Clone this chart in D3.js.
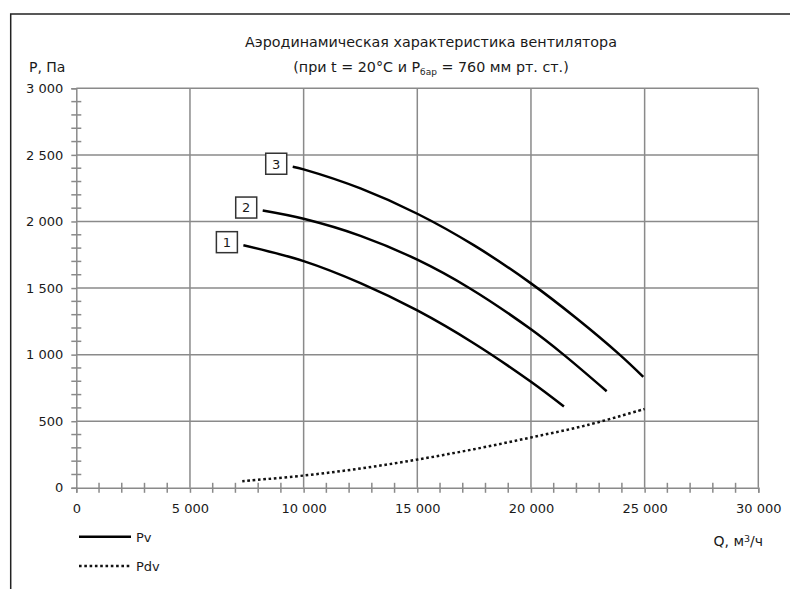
<!DOCTYPE html>
<html>
<head>
<meta charset="utf-8">
<script src="https://cdn.jsdelivr.net/npm/d3@7"></script>
<style>
  html, body { margin: 0; padding: 0; background: #fff; }
  svg { display: block; font-family: "DejaVu Sans", sans-serif; }
</style>
</head>
<body>
<svg id="chart" width="790" height="589"></svg>
<script>
// Q, m3/h and P, Pa
const curve1Q = [7350, 10000, 12500, 15000, 17500, 20000, 21450];
const curve1P = [1822, 1702, 1537, 1332, 1084, 796, 610];
const curve2Q = [8200, 10000, 12500, 15000, 17320, 20000, 21420, 23330];
const curve2P = [2082, 2020, 1892, 1713, 1497, 1190, 1002, 725];
const curve3Q = [9520, 10000, 12500, 15000, 17500, 20000, 22000, 23900, 24940];
const curve3P = [2411, 2391, 2248, 2058, 1820, 1535, 1273, 1000, 833];
const pdvQ = [7300, 10000, 12500, 15000, 17500, 20000, 22500, 25000];
const pdvP = [50, 92, 145, 212, 290, 378, 472, 592];
const curveLabels = ["1", "2", "3"];
const xTicks = [0, 5000, 10000, 15000, 20000, 25000, 30000];
const yTicks = [0, 500, 1000, 1500, 2000, 2500, 3000];

const svg = d3.select('#chart');
const grid = '#8a8a8a';
const ink = '#1a1a1a';

const x = d3.scaleLinear().domain([0, 30000]).range([76.3, 758.3]);
const y = d3.scaleLinear().domain([0, 3000]).range([487.8, 88.3]);
const fmt = d3.formatLocale({decimal: ',', thousands: ' ', grouping: [3], currency: ['', '']}).format(',d');

// outer frame (only top and left edges show)
svg.append('path').attr('d', 'M10.7,589V14H790')
  .attr('fill', 'none').attr('stroke', '#222').attr('stroke-width', 1.5);

// gridlines
const g = svg.append('g');
g.selectAll('line.vg').data(xTicks.slice(1)).enter().append('line')
  .attr('x1', d => x(d)).attr('x2', d => x(d)).attr('y1', y(0)).attr('y2', y(3000))
  .attr('stroke', grid).attr('stroke-width', 1.5);
g.selectAll('line.hg').data(yTicks.slice(1)).enter().append('line')
  .attr('x1', x(0)).attr('x2', x(30000)).attr('y1', d => y(d)).attr('y2', d => y(d))
  .attr('stroke', grid).attr('stroke-width', 1.5);

// axes with crossing minor ticks
const yAxis = g.append('g').attr('transform', 'translate(' + x(0) + ',0)')
  .call(d3.axisLeft(y).tickValues(yTicks).tickSize(5).tickFormat(fmt).tickPadding(8));
const xAxis = g.append('g').attr('transform', 'translate(0,' + y(0) + ')')
  .call(d3.axisBottom(x).tickValues(xTicks).tickSize(5).tickFormat(fmt).tickPadding(8));
[yAxis, xAxis].forEach(a => {
  a.select('.domain').attr('stroke', grid).attr('stroke-width', 1.5);
  a.selectAll('.tick line').attr('stroke', grid).attr('stroke-width', 1.5);
  a.selectAll('.tick text').attr('fill', ink).style('font-size', '13px').style('font-family', '"DejaVu Sans", sans-serif');
});
xAxis.selectAll('.tick text').attr('dy', '0.95em');

g.selectAll('line.ym').data(d3.range(100, 3000, 100).filter(v => v % 500)).enter().append('line')
  .attr('x1', x(0) - 5).attr('x2', x(0) + 5).attr('y1', d => y(d)).attr('y2', d => y(d))
  .attr('stroke', grid).attr('stroke-width', 1.5);
g.selectAll('line.xm').data(d3.range(1000, 30000, 1000).filter(v => v % 5000)).enter().append('line')
  .attr('x1', d => x(d)).attr('x2', d => x(d)).attr('y1', y(0) - 5).attr('y2', y(0) + 5)
  .attr('stroke', grid).attr('stroke-width', 1.5);

// curves
const line = d3.line().x(d => x(d[0])).y(d => y(d[1])).curve(d3.curveCatmullRom);
const pv = [d3.zip(curve1Q, curve1P), d3.zip(curve2Q, curve2P), d3.zip(curve3Q, curve3P)];
svg.selectAll('path.pv').data(pv).enter().append('path')
  .attr('d', line).attr('fill', 'none').attr('stroke', '#000').attr('stroke-width', 2.5);
svg.append('path').datum(d3.zip(pdvQ, pdvP))
  .attr('d', line).attr('fill', 'none').attr('stroke', '#111')
  .attr('stroke-width', 2.5).attr('stroke-dasharray', '2.6 2.7');

// numbered boxes at the start of each Pv curve
const lab = svg.selectAll('g.lab').data(pv).enter().append('g')
  .attr('transform', d => 'translate(' + (x(d[0][0]) - 6) + ',' + (y(d[0][1]) - 3) + ')');
lab.append('rect').attr('x', -21).attr('y', -10.5).attr('width', 21).attr('height', 21)
  .attr('fill', '#fff').attr('stroke', '#333').attr('stroke-width', 1.5);
lab.append('text').attr('x', -10.5).attr('y', 4.8).attr('text-anchor', 'middle')
  .attr('fill', ink).style('font-size', '13px').text((d, i) => curveLabels[i]);

// titles
const title = svg.append('g').attr('fill', ink).style('font-size', '14.3px');
title.append('text').attr('x', 431).attr('y', 47).attr('text-anchor', 'middle')
  .text('Аэродинамическая характеристика вентилятора');
const t2 = title.append('text').attr('x', 431).attr('y', 72).attr('text-anchor', 'middle');
t2.append('tspan').text('(при t = 20°C и P');
t2.append('tspan').attr('dy', 3).style('font-size', '9px').text('бар');
t2.append('tspan').attr('dy', -3).text(' = 760 мм рт. ст.)');
title.append('text').attr('x', 29).attr('y', 72).style('font-size', '14px').text('P, Па');
const q = title.append('text').attr('x', 763).attr('y', 546).attr('text-anchor', 'end').style('font-size', '14px');
q.append('tspan').text('Q, м');
q.append('tspan').attr('dy', -4.5).style('font-size', '9.5px').text('3');
q.append('tspan').attr('dy', 4.5).text('/ч');

// legend
const leg = svg.append('g');
leg.append('line').attr('x1', 79).attr('x2', 131).attr('y1', 536.7).attr('y2', 536.7)
  .attr('stroke', '#000').attr('stroke-width', 2.5);
leg.append('line').attr('x1', 79).attr('x2', 131).attr('y1', 566).attr('y2', 566)
  .attr('stroke', '#111').attr('stroke-width', 2.5).attr('stroke-dasharray', '2.6 2.7');
leg.append('text').attr('x', 136).attr('y', 541.5).attr('fill', ink).style('font-size', '13px').text('Pv');
leg.append('text').attr('x', 136).attr('y', 571).attr('fill', ink).style('font-size', '13px').text('Pdv');
</script>
</body>
</html>
